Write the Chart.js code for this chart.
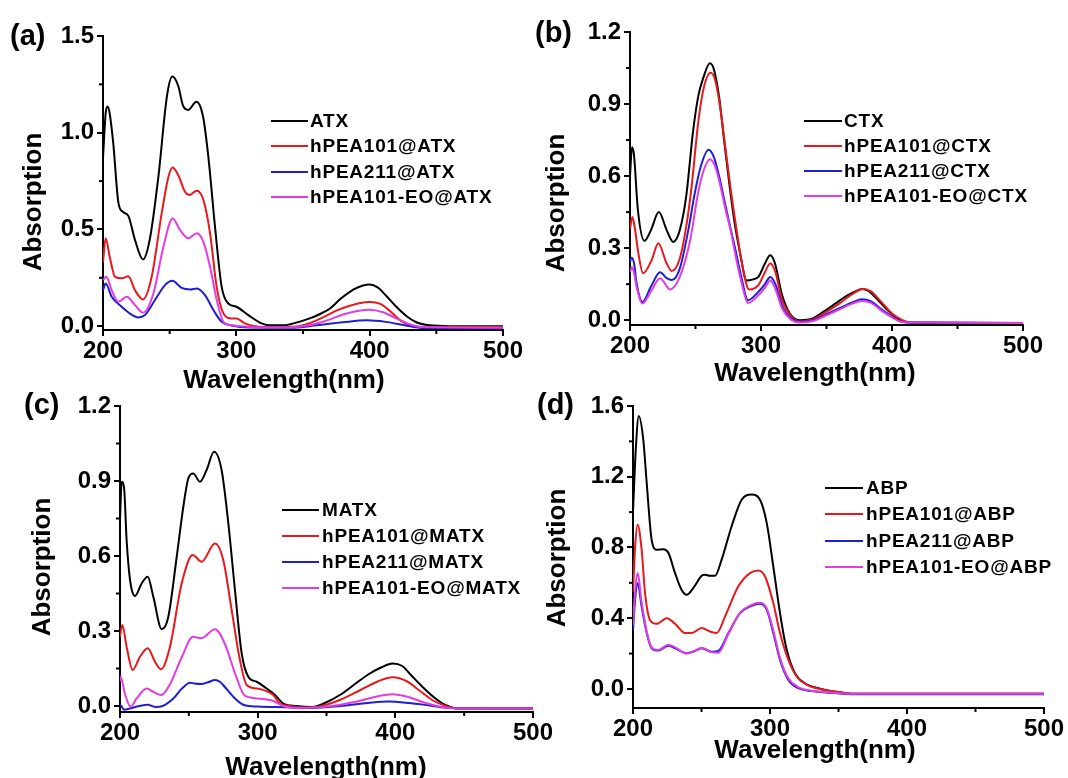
<!DOCTYPE html>
<html>
<head>
<meta charset="utf-8">
<script src="https://cdn.jsdelivr.net/npm/chart.js@4/dist/chart.umd.min.js"></script>
<style>
  html, body { margin: 0; padding: 0; background: #fff; }
  #wrap { position: relative; width: 1068px; height: 778px; overflow: hidden; }
  canvas { position: absolute; left: 0; top: 0; }
</style>
</head>
<body>
<div id="wrap">
  <canvas id="chartA" width="1068" height="778"></canvas>
  <canvas id="chartB" width="1068" height="778"></canvas>
  <canvas id="chartC" width="1068" height="778"></canvas>
  <canvas id="chartD" width="1068" height="778"></canvas>
</div>
<script>
// ---- data: [wavelength nm, absorption] ----
const xTicks = [200, 300, 400, 500];
const xMinor = [250, 350, 450];

// (a) ATX
const labelsA = ['ATX', 'hPEA101@ATX', 'hPEA211@ATX', 'hPEA101-EO@ATX'];
const yTicksA = [0, 0.5, 1.0, 1.5];
const yMinorA = [0.25, 0.75, 1.25];
const atx = [[200,0.87],[202,1.1],[203.5,1.135],[205,1.1],[207.7,0.945],[211.5,0.64],[215,0.59],[219,0.57],[224,0.445],[230,0.345],[235,0.445],[241.5,0.77],[248,1.19],[252,1.29],[256.5,1.24],[260,1.14],[264,1.118],[270,1.16],[275,1.085],[279,0.876],[284,0.514],[289,0.203],[294,0.117],[300,0.1],[309,0.057],[319,0.014],[325,0.004],[335,0.004],[345,0.018],[355,0.04],[362,0.06],[370,0.09],[378,0.14],[388,0.19],[395,0.21],[400,0.215],[406,0.2],[412,0.16],[420,0.1],[428,0.05],[435,0.02],[445,0.004],[460,0],[500,0]];
const hpea101Atx = [[200,0.33],[202,0.455],[205,0.36],[209,0.255],[214,0.247],[219,0.258],[224,0.186],[230,0.138],[236.5,0.255],[244,0.583],[249,0.77],[252.2,0.82],[256.5,0.78],[261.5,0.695],[265,0.678],[270.3,0.7],[275.3,0.652],[280.3,0.48],[285.3,0.2],[290.3,0.066],[296.5,0.04],[300,0.04],[306.5,0.014],[314,0],[330,-0.005],[345,-0.002],[355,0.015],[365,0.045],[375,0.08],[385,0.105],[393,0.12],[400,0.125],[408,0.115],[415,0.08],[423,0.03],[430,0.005],[440,-0.005],[500,-0.005]];
const hpea211Atx = [[200,0.186],[202,0.22],[206.5,0.152],[214,0.1],[220,0.066],[226.5,0.045],[231.5,0.057],[239,0.135],[246.5,0.212],[252,0.234],[259,0.198],[265.5,0.19],[270.5,0.195],[276.5,0.16],[282.8,0.083],[289,0.022],[296.5,0.003],[310,-0.007],[340,-0.008],[360,0.004],[380,0.02],[398,0.03],[412,0.022],[428,0.002],[440,-0.01],[500,-0.012]];
const hpea101EoAtx = [[200,0.238],[202.5,0.255],[206.5,0.186],[211.5,0.126],[217.8,0.152],[224,0.109],[230,0.07],[237.8,0.169],[245.3,0.41],[252.2,0.557],[257.8,0.497],[264,0.454],[270.3,0.48],[275.3,0.436],[280.3,0.307],[285.3,0.135],[290.3,0.022],[296.5,0.004],[310,-0.004],[340,-0.006],[355,0.005],[368,0.03],[380,0.06],[392,0.08],[400,0.085],[410,0.072],[420,0.04],[430,0.01],[440,-0.005],[500,-0.008]];

// (b) CTX
const labelsB = ['CTX', 'hPEA101@CTX', 'hPEA211@CTX', 'hPEA101-EO@CTX'];
const yTicksB = [0, 0.3, 0.6, 0.9, 1.2];
const yMinorB = [0.15, 0.45, 0.75, 1.05];
const ctx0 = [[200,0.6],[201.5,0.72],[203,0.69],[206,0.46],[211,0.33],[216,0.375],[222,0.45],[228,0.375],[233,0.326],[238,0.375],[243,0.52],[248,0.78],[252,0.93],[256,1.01],[261,1.07],[264,1.045],[268,0.93],[272,0.74],[276,0.56],[280,0.4],[284,0.28],[289,0.165],[294,0.17],[298,0.18],[303,0.236],[307,0.27],[310.7,0.236],[315.8,0.11],[322,0.028],[330,0],[339,0.006],[349,0.04],[357,0.07],[365,0.1],[372,0.12],[377,0.13],[382,0.122],[390,0.08],[397,0.04],[403,0.012],[410,-0.008],[430,-0.012],[500,-0.012]];
const hpea101Ctx = [[200,0.38],[201.8,0.43],[203.5,0.39],[206.4,0.278],[210,0.195],[216.5,0.25],[221.6,0.32],[228,0.236],[231.8,0.205],[238,0.257],[243.3,0.403],[247,0.555],[252,0.82],[256,0.96],[261.5,1.03],[265,1.0],[269,0.88],[273,0.71],[277,0.54],[281,0.39],[285,0.25],[291,0.128],[298,0.146],[303,0.2],[307,0.236],[311,0.2],[315.8,0.09],[323.5,0.013],[330,-0.005],[340,0.004],[350,0.035],[360,0.07],[370,0.11],[378,0.13],[384,0.12],[392,0.075],[400,0.028],[408,0],[415,-0.01],[500,-0.012]];
const hpea211Ctx = [[200,0.24],[201,0.26],[203,0.24],[205,0.155],[209.5,0.076],[216,0.14],[223,0.2],[228,0.175],[232,0.167],[238,0.215],[244.5,0.375],[249.5,0.53],[254,0.64],[260,0.71],[264,0.68],[268,0.6],[272,0.5],[276,0.4],[280,0.305],[285,0.18],[290,0.083],[298,0.118],[303,0.15],[307,0.18],[311,0.15],[316,0.063],[323,0.007],[330,-0.007],[340,0],[350,0.025],[360,0.05],[370,0.075],[377,0.087],[384,0.078],[392,0.045],[400,0.015],[406,-0.005],[415,-0.01],[500,-0.012]];
const hpea101EoCtx = [[200,0.2],[201.5,0.22],[203,0.2],[205,0.14],[209.5,0.07],[216,0.12],[223,0.175],[230.5,0.128],[238,0.18],[246,0.335],[252,0.53],[256,0.62],[261,0.67],[265,0.64],[269,0.56],[273,0.46],[277,0.37],[280,0.285],[285,0.16],[290,0.072],[298,0.104],[303,0.135],[307,0.165],[311,0.13],[316,0.05],[323,0.002],[330,-0.01],[340,-0.003],[350,0.02],[360,0.045],[370,0.07],[377,0.08],[384,0.072],[392,0.04],[400,0.012],[406,-0.005],[415,-0.01],[500,-0.012]];

// (c) MATX
const labelsC = ['MATX', 'hPEA101@MATX', 'hPEA211@MATX', 'hPEA101-EO@MATX'];
const yTicksC = [0, 0.3, 0.6, 0.9, 1.2];
const yMinorC = [0.15, 0.45, 0.75, 1.05];
const matx = [[200,0.744],[201.2,0.897],[203,0.87],[204.8,0.664],[207.3,0.504],[210.9,0.44],[215.7,0.49],[220.1,0.517],[224.2,0.437],[230.3,0.307],[235.1,0.357],[241.2,0.597],[246,0.797],[249.6,0.91],[253.2,0.93],[258.1,0.897],[262.9,0.944],[268.3,1.017],[273.8,0.944],[278.7,0.73],[283.5,0.464],[288.4,0.21],[293.2,0.117],[299.3,0.097],[306.5,0.07],[312.6,0.044],[318.6,0.01],[328,0],[340,-0.004],[350,0.015],[360,0.045],[370,0.085],[380,0.125],[390,0.155],[398,0.17],[405,0.16],[412,0.12],[420,0.075],[428,0.035],[436,0.005],[445,-0.01],[500,-0.01]];
const hpea101Matx = [[200,0.277],[201.7,0.324],[204.8,0.237],[209.2,0.144],[214.5,0.197],[220.1,0.231],[225.4,0.177],[229.8,0.147],[236.3,0.237],[244.8,0.49],[252.8,0.604],[259.3,0.577],[269,0.65],[275,0.584],[281.1,0.384],[287.1,0.184],[292,0.084],[299.3,0.07],[311.3,0.044],[316.2,0.01],[323,0],[335,-0.006],[345,-0.002],[360,0.025],[375,0.065],[388,0.1],[398,0.115],[408,0.1],[418,0.06],[428,0.02],[437,0],[445,-0.01],[500,-0.01]];
const hpea211Matx = [[200,0.005],[201,0],[203,-0.015],[207,-0.01],[214,0],[220,0.005],[226,-0.004],[231,0],[238.7,0.03],[245,0.07],[251,0.093],[254,0.09],[259,0.088],[264,0.095],[269,0.104],[273,0.095],[276,0.077],[283.5,0.03],[290,0.004],[300,-0.002],[320,-0.005],[340,-0.008],[360,0],[380,0.012],[395,0.018],[410,0.012],[425,0.002],[440,-0.008],[500,-0.01]];
const hpea101EoMatx = [[200,0.1],[200.5,0.117],[203.5,0.05],[207.7,-0.003],[212,0.03],[219.4,0.07],[224,0.057],[230,0.044],[236,0.084],[245,0.197],[253,0.277],[259,0.271],[269,0.307],[276,0.251],[283.5,0.131],[289.6,0.048],[294,0.035],[300,0.03],[311,0.021],[318.6,0],[330,-0.008],[345,-0.005],[360,0.005],[375,0.022],[388,0.04],[398,0.047],[410,0.035],[422,0.012],[435,-0.005],[445,-0.01],[500,-0.01]];

// (d) ABP
const labelsD = ['ABP', 'hPEA101@ABP', 'hPEA211@ABP', 'hPEA101-EO@ABP'];
const yTicksD = [0, 0.4, 0.8, 1.2, 1.6];
const yMinorD = [0.2, 0.6, 1.0, 1.4];
const abp = [[200,1.0],[202,1.35],[204.2,1.543],[207.5,1.41],[210,1.165],[213.6,0.844],[217.3,0.787],[222.1,0.79],[225.8,0.77],[230.7,0.655],[235.5,0.56],[239.2,0.533],[244,0.57],[250.1,0.64],[252.5,0.646],[256,0.64],[259.9,0.64],[264.7,0.731],[272,0.92],[279.3,1.07],[286.6,1.099],[292.7,1.07],[297.6,0.939],[302.4,0.693],[307.3,0.429],[312.2,0.221],[318.2,0.089],[325.5,0.032],[335.3,0.004],[349.9,-0.018],[362,-0.028],[500,-0.028]];
const hpea101Abp = [[200,0.55],[201.5,0.8],[203.4,0.929],[206.3,0.788],[208.8,0.542],[212.4,0.39],[217.3,0.368],[224.6,0.4],[230.7,0.368],[238,0.316],[242.9,0.316],[250.1,0.344],[256.1,0.325],[261.1,0.316],[267.2,0.41],[276.9,0.58],[285.4,0.655],[291.5,0.67],[296.4,0.636],[302.4,0.486],[307.3,0.316],[313.4,0.164],[319.5,0.07],[327,0.023],[339.8,-0.006],[352,-0.02],[362,-0.028],[500,-0.028]];
const hpea211Abp = [[200,0.33],[201.5,0.5],[203.4,0.599],[206.3,0.466],[210,0.316],[213.6,0.23],[218.5,0.217],[225.8,0.244],[230.7,0.23],[239.2,0.202],[244,0.21],[250.1,0.23],[257.5,0.21],[262.3,0.215],[269.6,0.316],[278.1,0.429],[286.6,0.47],[292.7,0.482],[297.6,0.448],[302.4,0.316],[307.3,0.164],[313.4,0.051],[320.7,0.004],[330,-0.012],[345,-0.022],[360,-0.03],[500,-0.03]];
const hpea101EoAbp = [[200,0.36],[201.5,0.55],[203.4,0.655],[206.3,0.49],[210,0.325],[213.6,0.235],[218.5,0.22],[225.8,0.25],[230.7,0.235],[239.2,0.2],[244,0.212],[250.1,0.232],[257.5,0.208],[262.3,0.205],[269.6,0.31],[278.1,0.43],[286.6,0.475],[292.7,0.487],[297.6,0.455],[302.4,0.33],[307.3,0.175],[313.4,0.06],[320.7,0.01],[330,-0.01],[345,-0.02],[360,-0.028],[500,-0.028]];

const colors = ['#000000', '#e8191c', '#1e1ed2', '#e33ce3'];
const FONT = '"Liberation Sans", Arial, sans-serif';

// draws panel letter, axis titles, minor ticks and legend
const decor = {
  id: 'decor',
  afterDraw(chart, args, o) {
    const c = chart.ctx;
    const xs = chart.scales.x, ys = chart.scales.y;
    c.save();
    c.strokeStyle = '#000';
    c.lineWidth = 2;
    o.xMinor.forEach(v => {
      const px = xs.getPixelForValue(v);
      c.beginPath(); c.moveTo(px, xs.top); c.lineTo(px, xs.top + 4); c.stroke();
    });
    o.yMinor.forEach(v => {
      const py = ys.getPixelForValue(v);
      c.beginPath(); c.moveTo(ys.right, py); c.lineTo(ys.right - 4, py); c.stroke();
    });

    c.fillStyle = '#000';
    c.font = 'bold 29px ' + FONT;
    c.textAlign = 'left';
    c.textBaseline = 'alphabetic';
    c.fillText(o.letter[0], o.letter[1], o.letter[2]);

    c.font = 'bold 26px ' + FONT;
    c.textAlign = 'center';
    c.fillText('Wavelength(nm)', o.xTitle[0], o.xTitle[1]);
    c.save();
    c.translate(o.yTitle[0], o.yTitle[1]);
    c.rotate(-Math.PI / 2);
    c.textBaseline = 'middle';
    c.fillText('Absorption', 0, 0);
    c.restore();

    c.font = 'bold 19px ' + FONT;
    c.textAlign = 'left';
    c.textBaseline = 'middle';
    c.letterSpacing = '0.8px';
    chart.data.datasets.forEach((ds, i) => {
      const ry = o.legend.rows[i];
      c.strokeStyle = ds.borderColor;
      c.lineWidth = 2;
      c.beginPath(); c.moveTo(o.legend.x0, ry); c.lineTo(o.legend.x1, ry); c.stroke();
      c.fillText(ds.label, o.legend.tx, ry + 1);
    });
    c.restore();
  }
};

const YW = 70, XH = 40, W = 1068, H = 778;

function makePanel(id, box, yMin, yMax, yTicks, yMinor, labels, series, deco) {
  new Chart(document.getElementById(id), {
    type: 'line',
    data: {
      datasets: series.map((s, i) => ({
        label: labels[i],
        data: s.map(p => ({ x: p[0], y: p[1] })),
        borderColor: colors[i],
        borderWidth: 2,
        pointRadius: 0,
        fill: false,
        cubicInterpolationMode: 'monotone',
        order: 4 - i
      }))
    },
    options: {
      responsive: false,
      animation: false,
      events: [],
      layout: { padding: { left: box.l - YW, top: box.t, right: W - box.r, bottom: H - box.b - XH } },
      plugins: {
        legend: { display: false },
        tooltip: { enabled: false },
        decor: Object.assign({ xMinor: xMinor, yMinor: yMinor }, deco)
      },
      scales: {
        x: {
          type: 'linear', min: 200, max: 500,
          afterBuildTicks: ax => { ax.ticks = xTicks.map(v => ({ value: v })); },
          afterFit: ax => { ax.height = XH; },
          grid: { drawOnChartArea: false, tickLength: 6, color: '#000', lineWidth: 2 },
          border: { color: '#000', width: 2 },
          ticks: { color: '#000', padding: 1, maxRotation: 0, font: { family: FONT, size: 24, weight: 'bold' }, callback: v => String(v) }
        },
        y: {
          type: 'linear', min: yMin, max: yMax,
          afterBuildTicks: ax => { ax.ticks = yTicks.map(v => ({ value: v })); },
          afterFit: ax => { ax.width = YW; },
          grid: { drawOnChartArea: false, tickLength: 6, color: '#000', lineWidth: 2 },
          border: { color: '#000', width: 2 },
          ticks: { color: '#000', padding: 3, font: { family: FONT, size: 24, weight: 'bold' }, callback: v => Number(v).toFixed(1) }
        }
      }
    },
    plugins: [decor]
  });
}

makePanel('chartA', { l: 103, r: 503, t: 36, b: 330 }, -0.02, 1.5, yTicksA, yMinorA, labelsA,
  [atx, hpea101Atx, hpea211Atx, hpea101EoAtx],
  { letter: ['(a)', 10, 45], xTitle: [284, 388], yTitle: [34, 202],
    legend: { x0: 271, x1: 308, tx: 310, rows: [121, 146, 172, 197] } });

makePanel('chartB', { l: 630, r: 1023, t: 32, b: 325 }, -0.02, 1.2, yTicksB, yMinorB, labelsB,
  [ctx0, hpea101Ctx, hpea211Ctx, hpea101EoCtx],
  { letter: ['(b)', 535, 42], xTitle: [815, 381], yTitle: [557, 203],
    legend: { x0: 804, x1: 842, tx: 844, rows: [121, 146, 171, 196] } });

makePanel('chartC', { l: 120, r: 533, t: 406, b: 712 }, -0.024, 1.2, yTicksC, yMinorC, labelsC,
  [matx, hpea101Matx, hpea211Matx, hpea101EoMatx],
  { letter: ['(c)', 24, 414], xTitle: [326, 775], yTitle: [43, 567],
    legend: { x0: 282, x1: 319, tx: 322, rows: [510, 536, 562, 588] } });

makePanel('chartD', { l: 633, r: 1044, t: 406, b: 708 }, -0.108, 1.6, yTicksD, yMinorD, labelsD,
  [abp, hpea101Abp, hpea211Abp, hpea101EoAbp],
  { letter: ['(d)', 537, 414], xTitle: [815, 758], yTitle: [558, 558],
    legend: { x0: 825, x1: 863, tx: 866, rows: [488, 514, 541, 567] } });
</script>
</body>
</html>
